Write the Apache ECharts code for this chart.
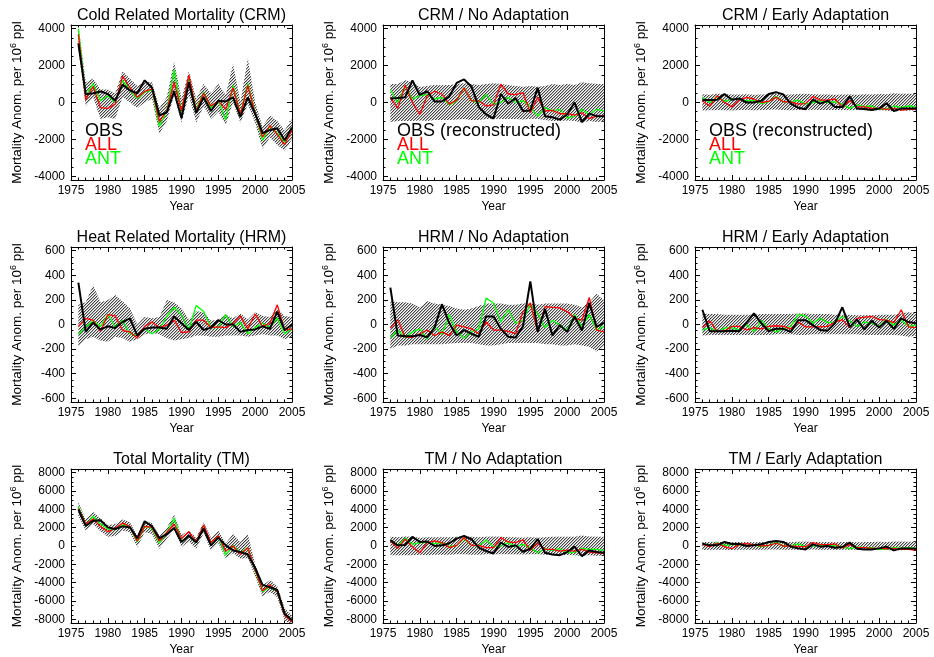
<!DOCTYPE html>
<html><head><meta charset="utf-8">
<script src="https://cdn.jsdelivr.net/npm/echarts@6/dist/echarts.min.js"></script>
<style>html,body{margin:0;padding:0;background:#fff}#c{width:934px;height:657px}</style>
</head><body><div id="c"></div>
<script>
const years = [1976,1977,1978,1979,1980,1981,1982,1983,1984,1985,1986,1987,1988,1989,1990,1991,1992,1993,1994,1995,1996,1997,1998,1999,2000,2001,2002,2003,2004,2005];

// ---- Cold Related Mortality ----
const CRM_OBS = [3200,450,500,600,460,100,970,650,500,1200,800,-690,-540,600,-840,1100,-560,280,-460,100,60,280,-780,280,-600,-1650,-1500,-1400,-2050,-1350];
const CRM_ALL = [3700,150,870,-280,-320,-90,1430,800,280,600,740,-1020,-460,1100,-460,1480,-460,500,-190,100,-370,800,-650,930,-600,-1860,-1250,-1730,-2290,-1490];
const CRM_ANT = [4000,370,1020,100,370,0,1200,650,220,560,690,-1300,-460,1770,-560,1300,-370,560,-280,100,-930,930,-650,1020,-560,-2050,-1300,-1670,-2140,-1400];
const CRM_UP  = [4200,1100,1300,700,700,500,1700,1300,900,1100,1100,-300,300,2200,200,1700,200,1000,500,1000,400,2100,0,2400,0,-1300,-700,-1000,-1500,-900];
const CRM_LO  = [2900,-200,300,-900,-800,-900,300,0,-300,0,200,-1700,-1000,400,-1100,400,-1100,-200,-900,-500,-1200,0,-1100,-100,-1100,-2500,-1900,-2300,-2600,-2000];

const CRMNA_OBS = [220,240,280,1200,410,610,60,60,320,1060,1250,870,-240,-650,-870,460,-60,240,-460,-430,800,-740,-800,-930,-650,0,-1060,-600,-740,-740];
const CRMNA_ALL = [280,-320,930,0,-650,370,610,460,-90,130,800,90,90,-190,-130,990,460,430,540,-560,280,-460,-430,-610,-610,-690,-560,-870,-740,-740];
const CRMNA_ANT = [690,0,870,190,370,430,190,280,-130,90,800,90,0,430,-90,0,280,0,90,-240,-740,-280,-460,-370,-840,-740,-370,-650,-370,-460];
const CRMNA_UP  = [1000,1000,1200,1100,840,900,950,930,950,1000,1050,1000,950,1000,1050,1000,950,900,850,900,850,900,1000,950,1000,950,1100,1050,1000,1000];
const CRMNA_LO  = [-1050,-1000,-1000,-1000,-980,-1000,-950,-950,-950,-920,-900,-950,-950,-900,-880,-900,-900,-900,-920,-880,-900,-950,-1000,-1000,-980,-1000,-1100,-1000,-1050,-1020];

const CRMEA_OBS = [130,130,150,460,150,220,0,0,90,460,560,430,-60,-280,-370,150,-60,90,-240,-240,320,-320,-350,-410,-320,-40,-460,-320,-320,-320];
const CRMEA_ALL = [90,-190,370,0,-240,130,280,190,0,60,280,40,40,-90,-60,320,130,130,190,-240,90,-240,-240,-320,-320,-370,-320,-410,-370,-370];
const CRMEA_ANT = [280,0,320,60,170,170,90,130,-60,40,320,40,40,130,-90,0,90,0,40,-90,-320,-130,-220,-190,-370,-340,-190,-280,-190,-240];
const CRMEA_UP  = [450,420,480,460,430,440,450,420,440,450,470,440,430,460,480,450,440,430,420,440,430,420,450,440,460,450,500,480,470,460];
const CRMEA_LO  = [-430,-420,-400,-420,-440,-410,-400,-420,-400,-390,-380,-400,-420,-410,-400,-390,-400,-410,-400,-400,-420,-400,-420,-430,-420,-440,-500,-450,-430,-440];

// ---- Heat Related Mortality ----
const HRM_OBS = [340,-60,15,-40,-15,-28,20,50,-90,-35,-25,-25,-35,65,10,-45,20,-45,-25,35,0,0,-60,-45,-40,-15,-35,105,-45,0];
const HRM_ALL = [-15,50,35,-55,80,70,-50,-60,-110,-15,20,-25,-5,35,-65,-60,35,35,-25,-20,-25,10,70,-35,85,-15,10,160,-45,-35];
const HRM_ANT = [-80,-20,30,-15,80,-20,35,-75,-90,-35,-75,-40,65,140,80,-45,155,105,-25,-25,80,-15,15,-75,-25,10,-20,50,-75,-35];
const HRM_UP  = [160,180,320,180,200,240,190,130,0,60,50,60,200,180,130,40,110,100,30,40,80,50,90,40,100,70,60,130,70,60];
const HRM_LO  = [-180,-120,-100,-130,-140,-100,-110,-140,-120,-80,-70,-80,-110,-130,-120,-110,-90,-90,-100,-100,-90,-90,-90,-100,-90,-80,-90,-90,-120,-100];

const HRMNA_OBS = [300,-90,-95,-95,-85,-105,-25,165,10,-90,-45,-75,-100,65,65,-35,-100,-105,-15,350,-60,125,-90,-5,-60,65,-50,175,-20,15];
const HRMNA_ALL = [-30,40,-100,-105,-75,-45,-90,-60,-90,-5,-20,-35,-75,20,-45,-45,-55,-75,105,175,-60,145,140,135,105,50,35,220,-45,-60];
const HRMNA_ANT = [-105,-45,-105,-60,-35,-120,-15,-80,80,-60,-110,-60,-35,215,175,20,120,10,35,165,90,-25,35,-5,-45,80,-20,80,-45,-15];
const HRMNA_UP  = [190,180,180,170,140,190,170,160,150,130,120,130,150,170,170,170,160,160,170,170,160,170,170,170,170,160,140,180,250,200];
const HRMNA_LO  = [-200,-170,-170,-160,-160,-160,-160,-160,-155,-150,-150,-150,-160,-170,-170,-160,-150,-150,-150,-150,-150,-160,-160,-170,-170,-160,-170,-180,-220,-170];

const HRMEA_OBS = [120,-55,-55,-55,-50,-55,15,90,10,-55,-35,-35,-60,35,35,-5,-45,-50,10,140,-20,40,-40,30,-25,30,-35,50,20,10];
const HRMEA_ALL = [-25,30,-55,-55,-15,-15,-45,-25,-35,-15,-10,-15,-35,20,-20,-20,-20,-15,20,40,-25,50,60,65,40,35,15,120,-20,-25];
const HRMEA_ANT = [-45,-25,-55,-30,-25,-45,0,-60,35,-35,-60,-35,-15,80,70,10,50,15,20,65,30,-15,20,10,-15,40,-5,35,-15,-5];
const HRMEA_UP  = [90,85,85,80,80,80,80,80,85,85,85,85,85,90,90,85,85,85,80,80,80,75,75,75,80,80,80,90,100,90];
const HRMEA_LO  = [-90,-85,-85,-85,-85,-85,-85,-85,-85,-85,-80,-80,-80,-85,-85,-80,-80,-80,-80,-80,-80,-80,-85,-85,-85,-85,-85,-90,-100,-90];

// ---- Total Mortality ----
const TM_OBS = [4000,2200,2750,2800,2030,1850,2140,2030,850,2700,2140,850,1290,1960,440,1110,370,1920,70,920,70,-480,-660,-920,-2400,-4240,-4500,-4800,-7380,-8100];
const TM_ALL = [4100,2400,2950,2140,1550,1920,2500,2140,550,2140,2030,550,1480,2400,810,1550,440,2290,370,1110,-550,0,-920,-180,-2580,-4870,-4240,-4980,-7560,-8300];
const TM_ANT = [4300,2210,3250,2400,1850,1770,2290,2140,440,2140,1920,300,1480,3030,550,1030,370,2140,70,1030,-1000,70,-740,-180,-2660,-4980,-4430,-4980,-7450,-8190];
const TM_UP  = [4800,2900,3700,3000,2300,2400,2900,2600,1100,2700,2500,1100,2000,3400,1200,1700,900,2600,900,1700,300,1300,400,1300,-2000,-4300,-3700,-4400,-6800,-7600];
const TM_LO  = [3300,1700,2400,1600,1000,1100,1700,1500,-100,1500,1300,-300,800,1800,-100,500,-300,1400,-500,300,-1300,-800,-1400,-1300,-3300,-5500,-5000,-5600,-8100,-8700];

const TMNA_OBS = [630,70,110,1000,440,480,0,70,300,810,1110,740,-180,-550,-810,370,-110,70,-630,-300,740,-740,-920,-1000,-660,-70,-1110,-480,-660,-740];
const TMNA_ALL = [550,-260,740,-110,-740,370,550,370,-180,70,920,70,70,-180,-180,920,440,370,660,-480,300,-370,-370,-550,-440,-550,-370,-660,-740,-810];
const TMNA_ANT = [660,0,850,180,370,370,260,370,-70,70,810,70,0,660,-70,0,370,-70,180,-180,-740,-300,-480,-300,-740,-660,-260,-370,-370,-480];
const TMNA_UP  = [1000,950,1050,1000,900,950,950,950,950,1000,1050,1000,950,1000,1050,1000,950,950,900,950,900,950,1000,1000,1000,1000,1150,1050,1000,1000];
const TMNA_LO  = [-1000,-1000,-1000,-1000,-950,-1000,-950,-950,-950,-900,-900,-950,-950,-900,-900,-900,-900,-900,-920,-900,-900,-950,-1000,-1000,-980,-1000,-1100,-1000,-1050,-1000];

const TMEA_OBS = [260,70,70,440,220,220,0,70,180,440,550,440,-70,-260,-370,180,-70,0,-180,-110,370,-300,-370,-370,-260,-70,-480,-260,-260,-300];
const TMEA_ALL = [180,-70,300,-70,-300,180,260,150,0,70,300,0,0,-70,-70,370,150,150,220,-220,150,-180,-180,-260,-260,-300,-260,-370,-370,-440];
const TMEA_ANT = [300,0,330,70,150,150,70,110,-70,70,370,0,0,220,-70,0,110,0,40,-70,-300,-110,-180,-180,-370,-330,-180,-260,-180,-260];
const TMEA_UP  = [450,430,470,450,430,440,450,420,440,450,470,440,430,460,480,450,440,430,420,440,430,420,450,440,460,450,500,480,470,460];
const TMEA_LO  = [-430,-420,-400,-420,-440,-410,-400,-420,-400,-390,-380,-400,-420,-410,-400,-390,-400,-410,-400,-400,-420,-400,-420,-430,-420,-440,-500,-450,-430,-440];

// tick labels
const CRM_TICKS = [-4000,-2000,0,2000,4000];
const HRM_TICKS = [-600,-400,-200,0,200,400,600];
const TM_TICKS  = [-8000,-6000,-4000,-2000,0,2000,4000,6000,8000];

const titles = ['Cold Related Mortality (CRM)','CRM / No Adaptation','CRM / Early Adaptation',
                'Heat Related Mortality (HRM)','HRM / No Adaptation','HRM / Early Adaptation',
                'Total Mortality (TM)','TM / No Adaptation','TM / Early Adaptation'];
const legendFirst = ['OBS','OBS (reconstructed)','OBS (reconstructed)'];
const legendRest = ['ALL','ANT'];

const rowCfg = [
  {ext:4200, ticks:CRM_TICKS, minorStep:500},
  {ext:630,  ticks:HRM_TICKS, minorStep:50},
  {ext:8400, ticks:TM_TICKS,  minorStep:500}
];
const panelData = [
  [CRM_OBS,CRM_ALL,CRM_ANT,CRM_UP,CRM_LO],
  [CRMNA_OBS,CRMNA_ALL,CRMNA_ANT,CRMNA_UP,CRMNA_LO],
  [CRMEA_OBS,CRMEA_ALL,CRMEA_ANT,CRMEA_UP,CRMEA_LO],
  [HRM_OBS,HRM_ALL,HRM_ANT,HRM_UP,HRM_LO],
  [HRMNA_OBS,HRMNA_ALL,HRMNA_ANT,HRMNA_UP,HRMNA_LO],
  [HRMEA_OBS,HRMEA_ALL,HRMEA_ANT,HRMEA_UP,HRMEA_LO],
  [TM_OBS,TM_ALL,TM_ANT,TM_UP,TM_LO],
  [TMNA_OBS,TMNA_ALL,TMNA_ANT,TMNA_UP,TMNA_LO],
  [TMEA_OBS,TMEA_ALL,TMEA_ANT,TMEA_UP,TMEA_LO]
];

// layout
const LEFTS = [71, 383, 695];
const TOPS = [25, 247, 469];
const W = 221, H = 155;
const FONT = '"Liberation Sans", Arial, sans-serif';

// hatch pattern (3px diagonal, pixel-exact)
const hatch = document.createElement('canvas');
hatch.width = 3; hatch.height = 3;
(function(){
  const c = hatch.getContext('2d');
  c.fillStyle = '#ffffff'; c.fillRect(0,0,3,3);
  c.fillStyle = '#b4b4b4';
  c.fillRect(0,0,1,1); c.fillRect(1,2,1,1); c.fillRect(2,1,1,1);
  c.fillStyle = '#454545';
  c.fillRect(0,2,1,1); c.fillRect(1,1,1,1); c.fillRect(2,0,1,1);
})();

const grids = [], xAxes = [], yAxes = [], series = [], graphics = [];
const blk = {color:'#000', width:1};
const plain = v => String(v);

function bandRenderer(up, lo) {
  return function(params, api) {
    if (params.dataIndex !== 0) return null;
    const n = years.length;
    const pts = [];
    for (let k = 0; k < n; k++) pts.push(api.coord([years[k], up[k]]));
    for (let k = n - 1; k >= 0; k--) pts.push(api.coord([years[k], lo[k]]));
    const cs = params.coordSys;
    return {
      type:'polygon',
      shape:{points:pts},
      style:{fill:{image:hatch, repeat:'repeat'}, stroke:null},
      clipPath:{type:'rect', shape:{x:cs.x, y:cs.y, width:cs.width, height:cs.height}}
    };
  };
}

for (let i = 0; i < 9; i++) {
  const r = Math.floor(i/3), col = i % 3;
  const left = LEFTS[col], top = TOPS[r];
  const cfg = rowCfg[r];
  const mx = cfg.ticks[cfg.ticks.length-1];
  const minor = [];
  for (let v = -mx; v <= mx; v += cfg.minorStep) minor.push(v);
  grids.push({left:left, top:top, width:W, height:H, show:false});
  const xBase = {gridIndex:i, type:'value', min:1975, max:2005, interval:5,
    axisLine:{show:true, onZero:false, lineStyle:blk},
    axisTick:{show:true, inside:true, length:5, lineStyle:blk},
    minorTick:{show:true, splitNumber:5, length:2.5, lineStyle:blk},
    splitLine:{show:false}, minorSplitLine:{show:false}};
  xAxes.push(Object.assign({}, xBase, {position:'bottom',
    axisLabel:{show:true, color:'#000', fontSize:12, fontFamily:FONT, margin:5, formatter:plain, showMinLabel:true, showMaxLabel:true, hideOverlap:false},
    name:'Year', nameLocation:'middle', nameGap:21, nameTextStyle:{color:'#000', fontSize:12, fontFamily:FONT}}));
  xAxes.push(Object.assign({}, xBase, {position:'top', axisLabel:{show:false}}));
  const yBase = {gridIndex:i, type:'value', min:-cfg.ext, max:cfg.ext, splitLine:{show:false}};
  yAxes.push(Object.assign({}, yBase, {position:'left',
    axisLine:{show:true, onZero:false, lineStyle:blk},
    axisTick:{show:true, inside:true, length:5, lineStyle:blk, customValues:cfg.ticks},
    axisLabel:{show:true, color:'#000', fontSize:12, fontFamily:FONT, margin:6, formatter:plain, customValues:cfg.ticks},
    name:'Mortality Anom. per 10{s|6} ppl', nameLocation:'middle', nameGap:46, nameRotate:90,
    nameTextStyle:{color:'#000', fontSize:13.5, fontFamily:FONT,
      rich:{s:{fontSize:9, fontFamily:FONT, color:'#000', verticalAlign:'bottom', padding:[0,0,7,0]}}}}));
  yAxes.push(Object.assign({}, yBase, {position:'right',
    axisLine:{show:true, onZero:false, lineStyle:blk},
    axisTick:{show:true, inside:true, length:5, lineStyle:blk, customValues:cfg.ticks},
    axisLabel:{show:false}}));
  yAxes.push(Object.assign({}, yBase, {position:'left',
    axisLine:{show:false}, axisTick:{show:true, inside:true, length:2.5, lineStyle:blk, customValues:minor},
    axisLabel:{show:false}}));
  yAxes.push(Object.assign({}, yBase, {position:'right',
    axisLine:{show:false}, axisTick:{show:true, inside:true, length:2.5, lineStyle:blk, customValues:minor},
    axisLabel:{show:false}}));

  const [obs, all, ant, up, lo] = panelData[i];
  const xi = 2*i, yi = 4*i;
  const common = {xAxisIndex:xi, yAxisIndex:yi, silent:true, animation:false};
  series.push(Object.assign({}, common, {type:'custom', renderItem:bandRenderer(up, lo),
    data: years.map((y,k)=>[y, lo[k], up[k]]), encode:{x:0, y:[1,2]}, z:1}));
  const ln = Object.assign({}, common, {type:'line', symbol:'none'});
  series.push(Object.assign({}, ln, {data: years.map((y,k)=>[y, ant[k]]), lineStyle:{color:'#00ff00', width:1.3}, z:3}));
  series.push(Object.assign({}, ln, {data: years.map((y,k)=>[y, all[k]]), lineStyle:{color:'#ff0000', width:1.3}, z:4}));
  series.push(Object.assign({}, ln, {data: years.map((y,k)=>[y, obs[k]]), lineStyle:{color:'#000000', width:2}, z:5}));

  graphics.push({type:'text', x:left+W/2, y:top-9, z:10,
    style:{text:titles[i], textAlign:'center', textVerticalAlign:'middle', font:'16px ' + FONT, fill:'#000'}});
  if (r === 0) {
    const f = '18px ' + FONT;
    graphics.push({type:'text', x:left+14, y:131, z:10,
      style:{text:legendFirst[col], textAlign:'left', textVerticalAlign:'middle', font:f, fill:'#000'}});
    graphics.push({type:'text', x:left+14, y:145, z:10,
      style:{text:legendRest[0], textAlign:'left', textVerticalAlign:'middle', font:f, fill:'#ff0000'}});
    graphics.push({type:'text', x:left+14, y:159, z:10,
      style:{text:legendRest[1], textAlign:'left', textVerticalAlign:'middle', font:f, fill:'#00ff00'}});
  }
}

const chart = echarts.init(document.getElementById('c'), null, {renderer:'canvas'});
chart.setOption({
  animation:false,
  backgroundColor:'#fff',
  grid:grids, xAxis:xAxes, yAxis:yAxes, series:series, graphic:graphics
});
</script></body></html>
